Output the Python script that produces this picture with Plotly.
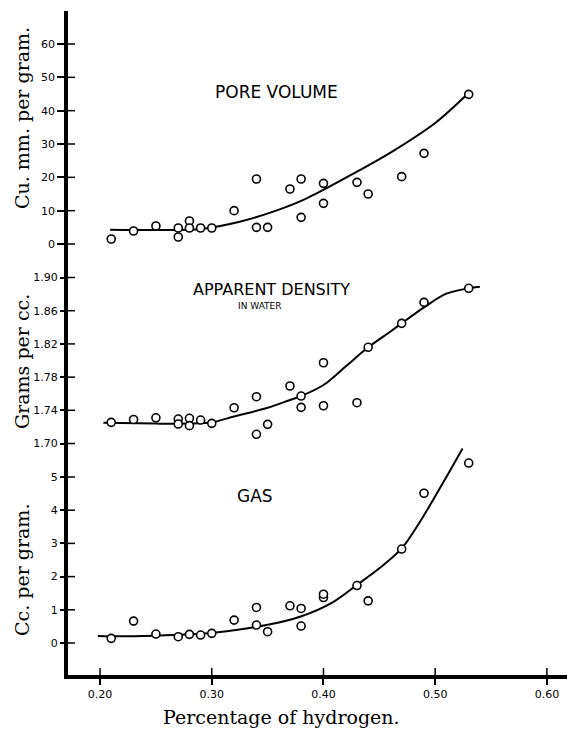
import plotly.graph_objects as go

# ---------------- data ----------------
pore_x = [0.21, 0.23, 0.25, 0.27, 0.27, 0.28, 0.28, 0.29, 0.30, 0.32, 0.34, 0.34, 0.35,
          0.37, 0.38, 0.38, 0.40, 0.40, 0.43, 0.44, 0.47, 0.49, 0.53]
pore_y = [1.5, 3.9, 5.4, 4.8, 2.1, 6.9, 4.8, 4.8, 4.8, 10.0, 19.5, 5.0, 5.0,
          16.5, 19.5, 8.0, 18.2, 12.2, 18.5, 15.0, 20.2, 27.2, 44.9]
pore_curve_x = [0.209, 0.26, 0.29, 0.325, 0.355, 0.385, 0.43, 0.46, 0.50, 0.528]
pore_curve_y = [4.3, 4.2, 4.5, 6.7, 9.7, 13.7, 21.7, 27.4, 36.3, 44.7]

dens_x = [0.21, 0.23, 0.25, 0.27, 0.27, 0.28, 0.28, 0.29, 0.30, 0.32, 0.34, 0.34, 0.35,
          0.37, 0.38, 0.38, 0.40, 0.40, 0.43, 0.44, 0.47, 0.49, 0.53]
dens_y = [1.7255, 1.729, 1.731, 1.7295, 1.7235, 1.7304, 1.7215, 1.7283, 1.7243, 1.7431,
          1.7564, 1.7111, 1.7231, 1.7693, 1.7572, 1.7436, 1.7973, 1.7455, 1.7492, 1.8159,
          1.8448, 1.8701, 1.887]
dens_curve_x = [0.203, 0.25, 0.28, 0.30, 0.32, 0.35, 0.37, 0.38, 0.40, 0.42, 0.44, 0.46,
                0.47, 0.49, 0.51, 0.53, 0.54]
dens_curve_y = [1.725, 1.724, 1.724, 1.7255, 1.7325, 1.7430, 1.7524, 1.7572, 1.7705, 1.793,
                1.8159, 1.835, 1.8448, 1.864, 1.8805, 1.887, 1.889]

gas_x = [0.21, 0.23, 0.25, 0.27, 0.28, 0.29, 0.30, 0.32, 0.34, 0.34, 0.35, 0.37, 0.38, 0.38,
         0.40, 0.40, 0.43, 0.44, 0.47, 0.49, 0.53]
gas_y = [0.14, 0.66, 0.27, 0.19, 0.26, 0.24, 0.29, 0.69, 1.07, 0.54, 0.34, 1.12, 1.04, 0.51,
         1.37, 1.47, 1.73, 1.27, 2.83, 4.51, 5.42]
gas_curve_x = [0.198, 0.21, 0.25, 0.28, 0.301, 0.349, 0.379, 0.409, 0.43, 0.45, 0.47, 0.49, 0.51, 0.5245]
gas_curve_y = [0.21, 0.2, 0.22, 0.26, 0.31, 0.54, 0.79, 1.24, 1.75, 2.25, 2.85, 3.85, 5.0, 5.86]

x_ticks = [0.20, 0.30, 0.40, 0.50, 0.60]
x_ticktext = ["0.20", "0.30", "0.40", "0.50", "0.60"]
pore_ticks = [0, 10, 20, 30, 40, 50, 60]
pore_ticktext = ["0", "10", "20", "30", "40", "50", "60"]
dens_ticks = [1.70, 1.74, 1.78, 1.82, 1.86, 1.90]
dens_ticktext = ["1.70", "1.74", "1.78", "1.82", "1.86", "1.90"]
gas_ticks = [0, 1, 2, 3, 4, 5]
gas_ticktext = ["0", "1", "2", "3", "4", "5"]

# ---------------- figure ----------------
W, H = 567, 733
ML, MR, MT, MB = 68, 0, 11, 58
PW, PH = W - ML - MR, H - MT - MB

X_RANGE = [0.1713, 0.6180]
PORE_RANGE = [-129.3, 69.9]
DENS_RANGE = [1.4211, 2.2211]
GAS_RANGE = [-0.964, 19.036]
TICK_IN = 7  # px length of the inner half of the crossing ticks


def px_x(p):
    return (p - ML) / PW


def px_y(p):
    return (H - MB - p) / PH


fig = go.Figure()

line_style = dict(color="black", width=2, shape="spline", smoothing=0.9)
marker_style = dict(symbol="circle", size=8, color="white", line=dict(color="black", width=1.6))

for cx, cy, px_, py_, ya in [
    (pore_curve_x, pore_curve_y, pore_x, pore_y, "y"),
    (dens_curve_x, dens_curve_y, dens_x, dens_y, "y2"),
    (gas_curve_x, gas_curve_y, gas_x, gas_y, "y3"),
]:
    fig.add_trace(go.Scatter(x=cx, y=cy, mode="lines", line=line_style, yaxis=ya,
                             hoverinfo="skip", showlegend=False))
    fig.add_trace(go.Scatter(x=px_, y=py_, mode="markers", marker=marker_style, yaxis=ya,
                             showlegend=False))

tickfont = dict(family="DejaVu Sans", size=11, color="black")


def yax(rng, tv, tt, show_line, extra=None):
    d = dict(range=rng, tickvals=tv, ticktext=tt, ticks="outside", ticklen=7,
             tickwidth=1.5, tickcolor="black", tickfont=tickfont,
             showgrid=False, zeroline=False, showline=show_line, linecolor="black",
             linewidth=3.5, anchor="x", domain=[0, 1], fixedrange=True)
    if extra:
        d.update(extra)
    return d


fig.update_layout(
    width=W, height=H,
    margin=dict(l=ML, r=MR, t=MT, b=MB, pad=0),
    paper_bgcolor="white", plot_bgcolor="white",
    xaxis=dict(range=X_RANGE, tickvals=x_ticks, ticktext=x_ticktext,
               ticks="outside", ticklen=6, tickwidth=1.5, tickcolor="black",
               tickfont=tickfont, showgrid=False, zeroline=False, showline=True,
               linecolor="black", linewidth=3.5, fixedrange=True),
    yaxis=yax(PORE_RANGE, pore_ticks, pore_ticktext, True),
    yaxis2=yax(DENS_RANGE, dens_ticks, dens_ticktext, False, dict(overlaying="y")),
    yaxis3=yax(GAS_RANGE, gas_ticks, gas_ticktext, False, dict(overlaying="y")),
)

# inner halves of the crossing tick marks
tick_line = dict(color="black", width=1.5)
for yref, tvals in [("y", pore_ticks), ("y2", dens_ticks), ("y3", gas_ticks)]:
    for v in tvals:
        fig.add_shape(type="line", xref="paper", yref=yref, x0=0, x1=TICK_IN / PW,
                      y0=v, y1=v, line=tick_line, layer="above")
for v in x_ticks:
    fig.add_shape(type="line", xref="x", yref="paper", x0=v, x1=v, y0=0, y1=TICK_IN / PH,
                  line=tick_line, layer="above")

serif = dict(family="DejaVu Serif", size=19, color="black")
label_font = dict(family="DejaVu Sans", size=17, color="black")

annots = [
    dict(text="Cu. mm. per gram.", x=px_x(22), y=px_y(118), textangle=-90, font=serif),
    dict(text="Grams per cc.", x=px_x(22), y=px_y(362), textangle=-90, font=serif),
    dict(text="Cc. per gram.", x=px_x(22), y=px_y(570), textangle=-90, font=serif),
    dict(text="Percentage of hydrogen.", x=px_x(281), y=px_y(717), font=serif),
    dict(text="PORE VOLUME", x=px_x(276), y=px_y(92), font=label_font),
    dict(text="APPARENT DENSITY", x=px_x(271), y=px_y(289), font=dict(family="DejaVu Sans", size=16, color="black")),
    dict(text="IN WATER", x=px_x(260), y=px_y(305.5), font=dict(family="DejaVu Sans", size=9, color="black")),
    dict(text="GAS", x=px_x(255), y=px_y(496), font=label_font),
]
for a in annots:
    fig.add_annotation(xref="paper", yref="paper", showarrow=False,
                       xanchor="center", yanchor="middle", **a)

fig.write_html("out.html")
